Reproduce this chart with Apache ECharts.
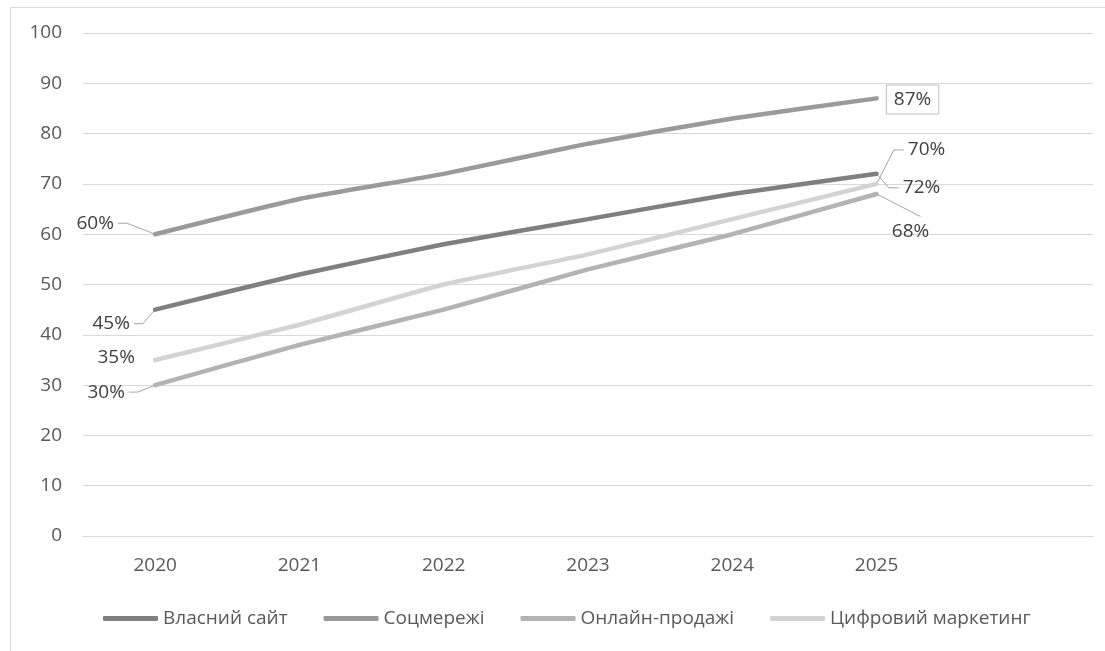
<!DOCTYPE html>
<html>
<head>
<meta charset="utf-8">
<script src="https://cdn.jsdelivr.net/npm/echarts@6/dist/echarts.min.js"></script>
<style>
  html, body { margin: 0; padding: 0; background: #ffffff; }
  #chart { width: 1105px; height: 651px; }
</style>
</head>
<body>
<div id="chart"></div>
<script>
// Categories (the last slot stays empty, as in the plot)
const years = ['2020', '2021', '2022', '2023', '2024', '2025', ''];

// Series values, %
const ownSite = [45, 52, 58, 63, 68, 72];
const socialMedia = [60, 67, 72, 78, 83, 87];
const onlineSales = [30, 38, 45, 53, 60, 68];
const digitalMarketing = [35, 42, 50, 56, 63, 70];

const seriesNames = ['Власний сайт', 'Соцмережі', 'Онлайн-продажі', 'Цифровий маркетинг'];
const seriesValues = [ownSite, socialMedia, onlineSales, digitalMarketing];
const seriesColors = ['#7f7f7f', '#9a9a9a', '#b3b3b3', '#d3d3d3'];

// Y axis ticks
const yMin = 0, yMax = 100, yStep = 10;

// Which points carry a value label, and where the label sits relative to its point
const labelOffsets = {
  'Власний сайт': { 0: [-44, 14], 5: [45, 14] },
  'Соцмережі': { 0: [-60, -11], 5: [36, 1] },
  'Онлайн-продажі': { 0: [-49, 7], 5: [34, 38] },
  'Цифровий маркетинг': { 0: [-39, -2], 5: [50, -34] }
};
// Labels that sit right next to their point (or in a box) get no leader line
const noLeader = { 'Соцмережі': { 5: true }, 'Цифровий маркетинг': { 0: true } };

const textColor = '#595959';
const fontFamily = '"Open Sans", sans-serif';
const fontSize = 19;
const leaderColor = '#a6a6a6';

const series = seriesNames.map(function (name, si) {
  const offs = labelOffsets[name];
  return {
    name: name,
    type: 'line',
    data: seriesValues[si].map(function (v, i) {
      const item = { value: v };
      if (offs[i]) {
        item.label = { show: true };
        if (name === 'Соцмережі' && i === 5) {
          item.label.borderColor = '#bfbfbf';
          item.label.borderWidth = 1;
          item.label.backgroundColor = '#ffffff';
          item.label.padding = [5, 7, 4, 7];
        }
      }
      return item;
    }),
    symbol: 'circle',
    symbolSize: 1,
    showSymbol: true,
    smooth: 0.15,
    lineStyle: { width: 4.5, color: seriesColors[si], cap: 'round' },
    itemStyle: { color: seriesColors[si] },
    label: {
      show: false,
      position: 'inside',
      formatter: function (p) { return p.value + '%'; },
      color: '#404040',
      fontSize: fontSize,
      fontFamily: fontFamily
    },
    labelLayout: function (p) {
      const o = offs[p.dataIndex];
      if (!o) return {};
      return { dx: o[0], dy: o[1] };
    },
    z: 2 + (3 - si)
  };
});

const chart = echarts.init(document.getElementById('chart'), null, { renderer: 'canvas' });
const baseOption = {
  animation: false,
  backgroundColor: '#ffffff',
  grid: { left: 83, right: 12, top: 33, bottom: 115 },
  legend: {
    left: 98,
    top: 604,
    icon: 'roundRect',
    itemWidth: 55,
    itemHeight: 5,
    itemGap: 36,
    textStyle: { color: textColor, fontSize: fontSize, fontFamily: fontFamily },
    data: seriesNames
  },
  xAxis: {
    type: 'category',
    data: years,
    boundaryGap: true,
    axisLine: { show: true, lineStyle: { color: '#d9d9d9', width: 1 } },
    axisTick: { show: false },
    axisLabel: { color: textColor, fontSize: fontSize, fontFamily: fontFamily, margin: 20 },
    splitLine: { show: false }
  },
  yAxis: {
    type: 'value',
    min: yMin,
    max: yMax,
    interval: yStep,
    axisLine: { show: false },
    axisTick: { show: false },
    axisLabel: { color: textColor, fontSize: fontSize, fontFamily: fontFamily, margin: 21 },
    splitLine: { lineStyle: { color: '#d9d9d9', width: 1 } }
  },
  series: series
};
chart.setOption(baseOption);

// Leader lines: a short horizontal stub beside the label, then a straight run to the point.
// Points come from the chart's own scales once the layout exists.
const measureCtx = document.createElement('canvas').getContext('2d');
measureCtx.font = fontSize + 'px ' + fontFamily;
const leaders = [];
seriesNames.forEach(function (name, si) {
  const offs = labelOffsets[name];
  Object.keys(offs).forEach(function (k) {
    const i = +k;
    if (noLeader[name] && noLeader[name][i]) return;
    const pt = chart.convertToPixel({ seriesIndex: si }, [i, seriesValues[si][i]]);
    const dx = offs[i][0], dy = offs[i][1];
    const halfW = measureCtx.measureText(seriesValues[si][i] + '%').width / 2;
    const halfH = fontSize * 0.6;
    const cx = pt[0] + dx, cy = pt[1] + dy;
    let pts;
    if (dy > 2 * halfH) {
      pts = [[pt[0], pt[1]], [cx + 10, cy - halfH - 4]];
    } else if (dx < 0) {
      pts = [[cx + halfW + 4, cy], [cx + halfW + 13, cy], [pt[0], pt[1]]];
    } else {
      pts = [[cx - halfW - 4, cy], [cx - halfW - 14, cy], [pt[0], pt[1]]];
    }
    leaders.push({
      type: 'polyline',
      shape: { points: pts },
      style: { stroke: leaderColor, lineWidth: 1, fill: null },
      silent: true,
      z: 1
    });
  });
});

chart.setOption({
  graphic: [{
    type: 'rect',
    shape: { x: 10.5, y: 7.5, width: 1300, height: 1000 },
    style: { fill: 'none', stroke: '#d9d9d9', lineWidth: 1 },
    silent: true,
    z: -10
  }].concat(leaders)
});
</script>
</body>
</html>
